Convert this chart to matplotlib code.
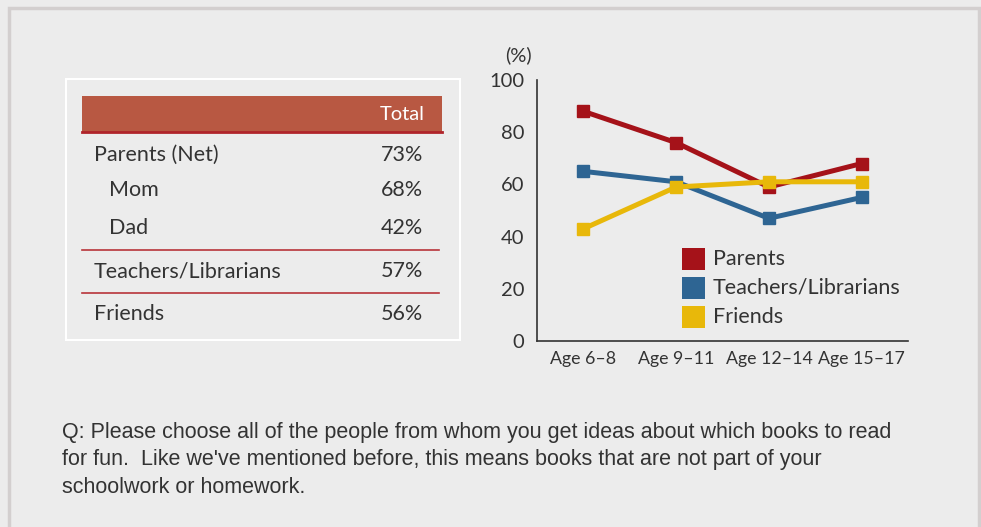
import matplotlib.pyplot as plt
from matplotlib.patches import Rectangle
from matplotlib.lines import Line2D

# Data
ages = ['Age 6\u20138', 'Age 9\u201311', 'Age 12\u201314', 'Age 15\u201317']
parents = [88, 76, 59, 68]
teachers = [65, 61, 47, 55]
friends = [43, 59, 61, 61]

table_labels = ['Parents (Net)', 'Mom', 'Dad', 'Teachers/Librarians', 'Friends']
table_values = ['73%', '68%', '42%', '57%', '56%']
table_indent = [False, True, True, False, False]

series_names = ['Parents', 'Teachers/Librarians', 'Friends']
series_colors = ['#a51219', '#2e6593', '#e8b80a']

question = ("Q: Please choose all of the people from whom you get ideas about which books to read\n"
            "for fun.  Like we've mentioned before, this means books that are not part of your\n"
            "schoolwork or homework.")

W, H = 981, 527
BG = '#ececec'
TXT = '#333333'
plt.rcParams['font.family'] = ['Lato', 'DejaVu Sans']

fig = plt.figure(figsize=(W / 100, H / 100), dpi=100, facecolor=BG)


def fx(x):
    return x / W


def fy(y):
    return 1 - y / H


# Outer frame
fig.patches.append(Rectangle((fx(8.5), fy(607.5)), fx(970), 600 / H, transform=fig.transFigure,
                             facecolor='none', edgecolor='#d3cfcf', lw=2.5))

# Table box
fig.patches.append(Rectangle((fx(66), fy(340)), fx(394), 261 / H, transform=fig.transFigure,
                             facecolor='none', edgecolor='white', lw=1.5))
fig.patches.append(Rectangle((fx(82), fy(132)), fx(360), 36 / H, transform=fig.transFigure,
                             facecolor='#b85842', edgecolor='none'))
fig.add_artist(Line2D([fx(82), fx(442)], [fy(132), fy(132)], transform=fig.transFigure,
                      color='#b0242a', lw=2))
fig.text(fx(425), fy(115), 'Total', ha='right', va='center', color='white', fontsize=14.5)

row_y = [155, 190, 228, 271, 314]
for lab, val, ind, y in zip(table_labels, table_values, table_indent, row_y):
    fig.text(fx(109 if ind else 94), fy(y), lab, ha='left', va='center', color=TXT, fontsize=15.5)
    fig.text(fx(423), fy(y), val, ha='right', va='center', color=TXT, fontsize=15.5)
for y in [250, 293]:
    fig.add_artist(Line2D([fx(82), fx(439)], [fy(y), fy(y)], transform=fig.transFigure,
                          color='#b8343a', lw=1.2))

# Line chart
ax = fig.add_axes([fx(537), fy(341), fx(371), 261 / H])
ax.set_facecolor(BG)
x = range(len(ages))
for vals, c in zip([parents, teachers, friends], series_colors):
    ax.plot(x, vals, color=c, lw=3.6, marker='s', markersize=8.5, zorder=3)

ax.set_xlim(-0.5, 3.5)
ax.set_ylim(0, 100)
ax.set_yticks([0, 20, 40, 60, 80, 100])
ax.set_xticks(list(x))
ax.set_xticklabels(ages)
ax.tick_params(length=0, colors=TXT)
ax.tick_params(axis='x', labelsize=12.8, pad=7)
ax.tick_params(axis='y', labelsize=14.5, pad=9)
for s in ['top', 'right']:
    ax.spines[s].set_visible(False)
for s in ['left', 'bottom']:
    ax.spines[s].set_color('#333333')
    ax.spines[s].set_linewidth(1.2)
fig.text(fx(518), fy(55), '(%)', ha='center', va='center', color=TXT, fontsize=14.5)

# Legend
for i, (name, c) in enumerate(zip(series_names, series_colors)):
    yc = 259 + i * 29
    fig.patches.append(Rectangle((fx(682), fy(yc + 11)), fx(23), 22 / H, transform=fig.transFigure,
                                 facecolor=c, edgecolor='none'))
    fig.text(fx(713), fy(yc), name, ha='left', va='center', color=TXT, fontsize=15.5)

# Question text
fig.text(fx(62), fy(422), question, ha='left', va='top', color=TXT, fontsize=15.5,
         linespacing=1.4, family=['Liberation Sans', 'DejaVu Sans'])

fig.savefig('out.png', dpi=100, facecolor=BG)
